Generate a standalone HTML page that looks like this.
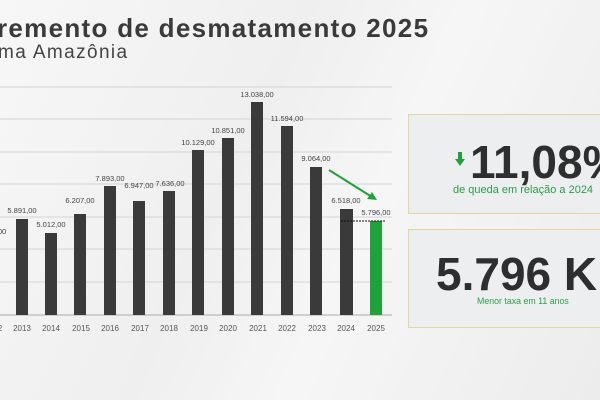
<!DOCTYPE html><html><head><style>
body{margin:0;width:600px;height:400px;overflow:hidden;font-family:"Liberation Sans",sans-serif;background:linear-gradient(115deg,#f7f7f7 0%,#efefef 40%,#f6f6f6 60%,#ececec 100%);position:relative}
.t{position:absolute;white-space:nowrap;color:#333}
.clip{position:absolute;left:0;top:0;width:600px;height:400px;overflow:hidden}
</style></head><body>
<div class="clip">
<div class="t" style="left:-3px;top:13px;font-size:26px;font-weight:bold;color:#3a3a3a;letter-spacing:1.3px">remento de desmatamento 2025</div>
<div class="t" style="left:-2px;top:42px;font-size:19px;color:#444;letter-spacing:1.4px">ma Amazônia</div>
<svg width="600" height="400" style="position:absolute;left:0;top:0" font-family="Liberation Sans" font-size="7.5" fill="#444">
<g stroke="#d4d4d4" stroke-width="1">
<line x1="0" x2="392" y1="87" y2="87"/><line x1="0" x2="392" y1="119" y2="119"/><line x1="0" x2="392" y1="152" y2="152"/><line x1="0" x2="392" y1="184" y2="184"/><line x1="0" x2="392" y1="217" y2="217"/><line x1="0" x2="392" y1="249" y2="249"/><line x1="0" x2="392" y1="282" y2="282"/></g>
<line x1="0" x2="392" y1="315" y2="315" stroke="#aaa"/>
<g fill="#3a3a3a">
<rect x="16" y="219" width="12" height="96"/>
<rect x="45" y="233" width="12" height="82"/>
<rect x="74" y="214" width="12" height="101"/>
<rect x="104" y="186" width="12" height="129"/>
<rect x="133" y="201" width="12" height="114"/>
<rect x="163" y="191" width="12" height="124"/>
<rect x="192" y="150" width="12" height="165"/>
<rect x="222" y="138" width="12" height="177"/>
<rect x="251" y="102" width="12" height="213"/>
<rect x="281" y="126" width="12" height="189"/>
<rect x="310" y="167" width="12" height="148"/>
<rect x="340" y="209" width="13" height="106"/>
</g>
<rect x="370" y="221" width="12" height="94" fill="#1fa23a"/>
<line x1="341" x2="386" y1="221" y2="221" stroke="#111" stroke-dasharray="2,1"/>
<line x1="329" y1="170" x2="372" y2="197" stroke="#1fa23a" stroke-width="2"/>
<polygon points="377,200 367,199 372,192" fill="#1fa23a"/>
<g text-anchor="middle">
<text x="2" y="234">00</text>
<text x="22" y="213">5.891,00</text><text x="51" y="227">5.012,00</text><text x="80" y="203">6.207,00</text>
<text x="110" y="181">7.893,00</text><text x="139" y="188">6.947,00</text><text x="170" y="186">7.636,00</text>
<text x="198" y="145">10.129,00</text><text x="228" y="133">10.851,00</text><text x="257" y="97">13.038,00</text>
<text x="287" y="121">11.594,00</text><text x="316" y="161">9.064,00</text><text x="346" y="203">6.518,00</text><text x="376" y="215">5.796,00</text>
</g>
<g text-anchor="middle" font-size="8" fill="#555">
<text x="0" y="331">2</text><text x="22" y="331">2013</text><text x="51" y="331">2014</text><text x="81" y="331">2015</text><text x="110" y="331">2016</text><text x="140" y="331">2017</text><text x="169" y="331">2018</text><text x="199" y="331">2019</text><text x="228" y="331">2020</text><text x="258" y="331">2021</text><text x="287" y="331">2022</text><text x="317" y="331">2023</text><text x="346" y="331">2024</text><text x="376" y="331">2025</text>
</g>
<rect x="408.5" y="114.5" width="200" height="99" fill="#eceef0" stroke="#e6d69a"/>
<rect x="408.5" y="229.5" width="200" height="98" fill="#eceef0" stroke="#e6d69a"/>
<rect x="458" y="152" width="4" height="8" fill="#1fa23a"/><polygon points="455,159 465,159 460,166" fill="#1fa23a"/>
</svg>
<div class="t" style="left:470px;top:135px;font-size:46px;font-weight:bold;color:#2e2e2e">11,08%</div>
<div class="t" style="left:453px;top:184px;font-size:11px;color:#2aa043">de queda em relação a 2024</div>
<div class="t" style="left:436px;top:247px;font-size:46px;font-weight:bold;color:#2e2e2e">5.796 KM</div>
<div class="t" style="left:477px;top:296px;font-size:8.8px;color:#2aa043">Menor taxa em 11 anos</div>
</div>
</body></html>
